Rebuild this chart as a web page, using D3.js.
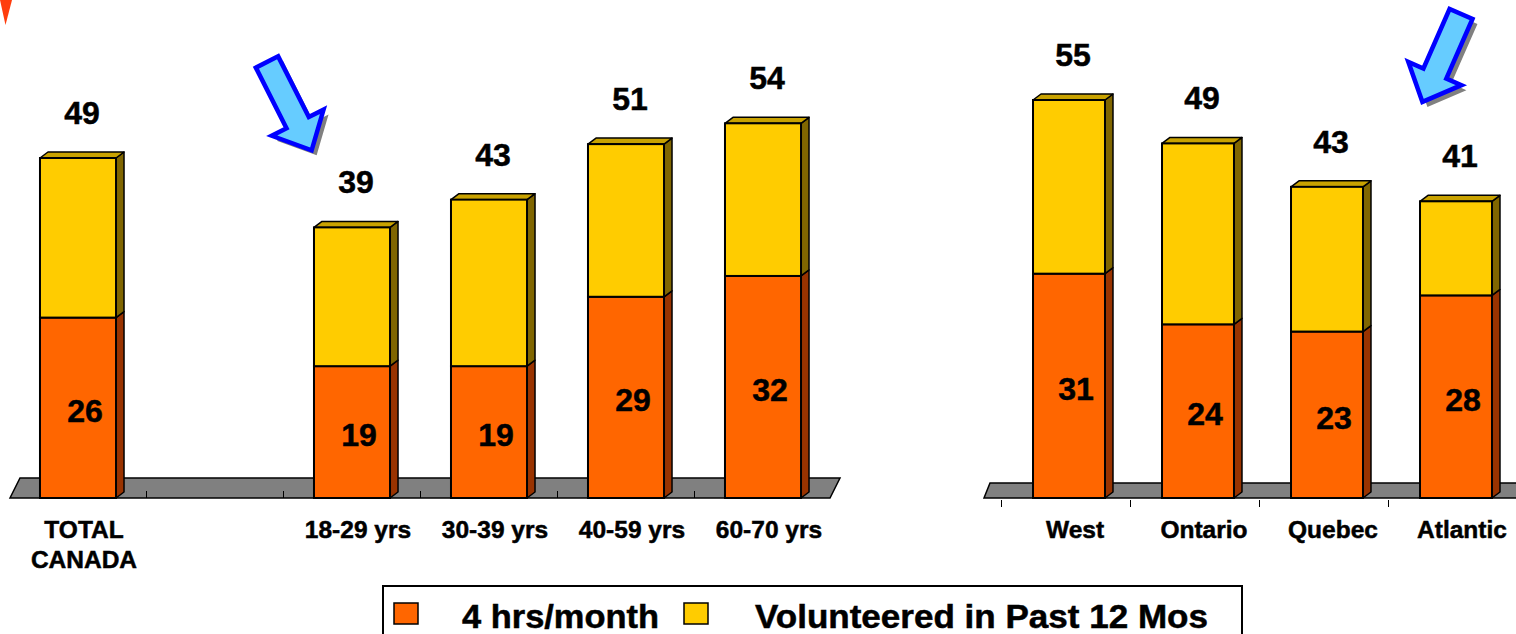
<!DOCTYPE html>
<html>
<head>
<meta charset="utf-8">
<script src="https://cdn.jsdelivr.net/npm/d3@7"></script>
<style>
  body { margin: 0; background: #fff; }
  svg { display: block; font-family: "Liberation Sans", Arial, sans-serif; font-weight: bold; }
  text { stroke: #000; stroke-width: 0.5px; }
</style>
</head>
<body>
<div class="chart"></div>
<script>
// age panel (a blank slot separates the total from the age groups)
const ageSlots = ['TOTAL CANADA', 'gap', '18-29 yrs', '30-39 yrs', '40-59 yrs', '60-70 yrs'];
const ageCategories = ['TOTAL CANADA', '18-29 yrs', '30-39 yrs', '40-59 yrs', '60-70 yrs'];
const ageHours = [26, 19, 19, 29, 32];
const ageVolunteered = [49, 39, 43, 51, 54];

// region panel
const regionCategories = ['West', 'Ontario', 'Quebec', 'Atlantic'];
const regionHours = [31, 24, 23, 28];
const regionVolunteered = [55, 49, 43, 41];

const legendLabels = ['4 hrs/month', 'Volunteered in Past 12 Mos'];

const width = 1516;
const height = 634;
const floorY = 498;
const depth = { dx: 8, dy: -6 };
const colors = {
  orange: '#ff6600', orangeSide: '#993300',
  yellow: '#ffcc00', yellowSide: '#806600', yellowTop: '#c9a200',
  floor: '#808080'
};

const svg = d3.select('.chart')
  .append('svg')
  .attr('width', width)
  .attr('height', height);

// little red marker cut by the top-left corner
svg.append('path')
  .attr('d', 'M0,0 L12,0 L5.5,25 Z')
  .attr('fill', '#ff3d0d');

function drawPanel(opts) {
  const { slots, categories, hours, totals, xRange, yScale, barFrac, floor, floorTicks } = opts;
  const x = d3.scalePoint().domain(slots).range(xRange).padding(0.5);
  const barW = x.step() * barFrac;
  const g = svg.append('g');

  // grey floor (parallelogram)
  g.append('path')
    .attr('d', `M${floor[0]},${floorY} L${floor[1]},${floorY} L${floor[1] + floor[2]},${floorY - floor[3]} L${floor[0] + floor[2]},${floorY - floor[3]} Z`)
    .attr('fill', colors.floor)
    .attr('stroke', '#000')
    .attr('stroke-width', 1.5);

  // ticks at slot boundaries: on the floor for the age panel, below it for regions
  const bounds = floorTicks
    ? slots.slice(1).map(s => x(s) - x.step() / 2)
    : slots.map(s => x(s) - x.step() / 2 - 3);
  g.selectAll('line.tick')
    .data(bounds)
    .enter()
    .append('line')
    .attr('x1', d => d).attr('x2', d => d)
    .attr('y1', floorTicks ? floorY - 7 : floorY + 2)
    .attr('y2', floorTicks ? floorY : floorY + 9)
    .attr('stroke', '#000')
    .attr('stroke-width', 1);

  const rows = categories.map((c, i) => ({ c, h: hours[i], t: totals[i] }));

  function box(sel, x0, y0, y1, front, side, top) {
    const x1 = x0 + barW;
    sel.append('path')
      .attr('d', `M${x1},${y1} L${x1 + depth.dx},${y1 + depth.dy} L${x1 + depth.dx},${y0 + depth.dy} L${x1},${y0} Z`)
      .attr('fill', side).attr('stroke', '#000').attr('stroke-width', 1.5).attr('stroke-linejoin', 'round');
    if (top) {
      sel.append('path')
        .attr('d', `M${x0},${y0} L${x0 + depth.dx},${y0 + depth.dy} L${x1 + depth.dx},${y0 + depth.dy} L${x1},${y0} Z`)
        .attr('fill', top).attr('stroke', '#000').attr('stroke-width', 1.5).attr('stroke-linejoin', 'round');
    }
    sel.append('rect')
      .attr('x', x0).attr('y', y0)
      .attr('width', barW).attr('height', y1 - y0)
      .attr('fill', front).attr('stroke', '#000').attr('stroke-width', 2);
  }

  rows.forEach(r => {
    const bg = g.append('g');
    const x0 = x(r.c) - barW / 2;
    box(bg, x0, yScale(r.h), yScale(0), colors.orange, colors.orangeSide, null);
    box(bg, x0, yScale(r.t), yScale(r.h), colors.yellow, colors.yellowSide, colors.yellowTop);
  });

  // value labels
  g.selectAll('text.total')
    .data(rows)
    .enter()
    .append('text')
    .attr('text-anchor', 'middle')
    .attr('font-size', 32)
    .attr('x', d => x(d.c) + 4)
    .attr('y', d => yScale(d.t) - 34)
    .text(d => d.t);

  g.selectAll('text.hours')
    .data(rows)
    .enter()
    .append('text')
    .attr('text-anchor', 'middle')
    .attr('font-size', 32)
    .attr('x', d => x(d.c) + 7)
    .attr('y', d => (yScale(d.h) + yScale(0)) / 2 + 14)
    .text(d => d.h);

  // category labels (TOTAL CANADA wraps onto two lines)
  rows.forEach(r => {
    const lines = r.c === 'TOTAL CANADA' ? ['TOTAL', 'CANADA'] : [r.c];
    const t = g.append('text')
      .attr('text-anchor', 'middle')
      .attr('font-size', 24.5)
      .attr('y', floorY + 40);
    lines.forEach((l, i) => {
      t.append('tspan')
        .attr('x', x(r.c) + 6)
        .attr('dy', i ? 30 : 0)
        .text(l);
    });
  });
}

drawPanel({
  slots: ageSlots,
  categories: ageCategories,
  hours: ageHours,
  totals: ageVolunteered,
  xRange: [9.5, 831.5],
  yScale: d3.scaleLinear().domain([0, 49]).range([floorY, 158]),
  barFrac: 0.555,
  floor: [10, 830, 10, 20],
  floorTicks: true
});

drawPanel({
  slots: regionCategories,
  categories: regionCategories,
  hours: regionHours,
  totals: regionVolunteered,
  xRange: [1004.5, 1520.5],
  yScale: d3.scaleLinear().domain([0, 55]).range([floorY, 100]),
  barFrac: 0.558,
  floor: [984, 1560, 6, 15],
  floorTicks: false
});

// callout arrows
function arrow(x0, y0, angle, len) {
  const shaft = 12.5, head = 29, headLen = 31;
  const pts = [[0, -shaft], [len - headLen, -shaft], [len - headLen, -head], [len, 0],
    [len - headLen, head], [len - headLen, shaft], [0, shaft]];
  const line = d3.line()(pts) + 'Z';
  svg.append('path')
    .attr('d', line)
    .attr('fill', '#808080')
    .attr('transform', `translate(${x0 + 5},${y0 + 5}) rotate(${angle})`);
  svg.append('path')
    .attr('d', line)
    .attr('fill', '#66ccff')
    .attr('stroke', '#0000ff')
    .attr('stroke-width', 4.5)
    .attr('stroke-linejoin', 'miter')
    .attr('transform', `translate(${x0},${y0}) rotate(${angle})`);
}
arrow(267, 62, 63.2, 99);
arrow(1461, 14, 113.7, 96);

// legend
const legend = svg.append('g');
legend.append('rect')
  .attr('x', 383).attr('y', 586)
  .attr('width', 859).attr('height', 70)
  .attr('fill', '#fff')
  .attr('stroke', '#000')
  .attr('stroke-width', 2);
const legendX = [394, 684];
const legendTextX = [462, 755];
const legendTextW = [197, 453];
[colors.orange, colors.yellow].forEach((c, i) => {
  legend.append('rect')
    .attr('x', legendX[i]).attr('y', 603)
    .attr('width', 24).attr('height', 21)
    .attr('fill', c)
    .attr('stroke', '#000')
    .attr('stroke-width', 1.5);
  legend.append('text')
    .attr('x', legendTextX[i])
    .attr('y', 628)
    .attr('font-size', 33)
    .attr('textLength', legendTextW[i])
    .attr('lengthAdjust', 'spacingAndGlyphs')
    .text(legendLabels[i]);
});
</script>
</body>
</html>
